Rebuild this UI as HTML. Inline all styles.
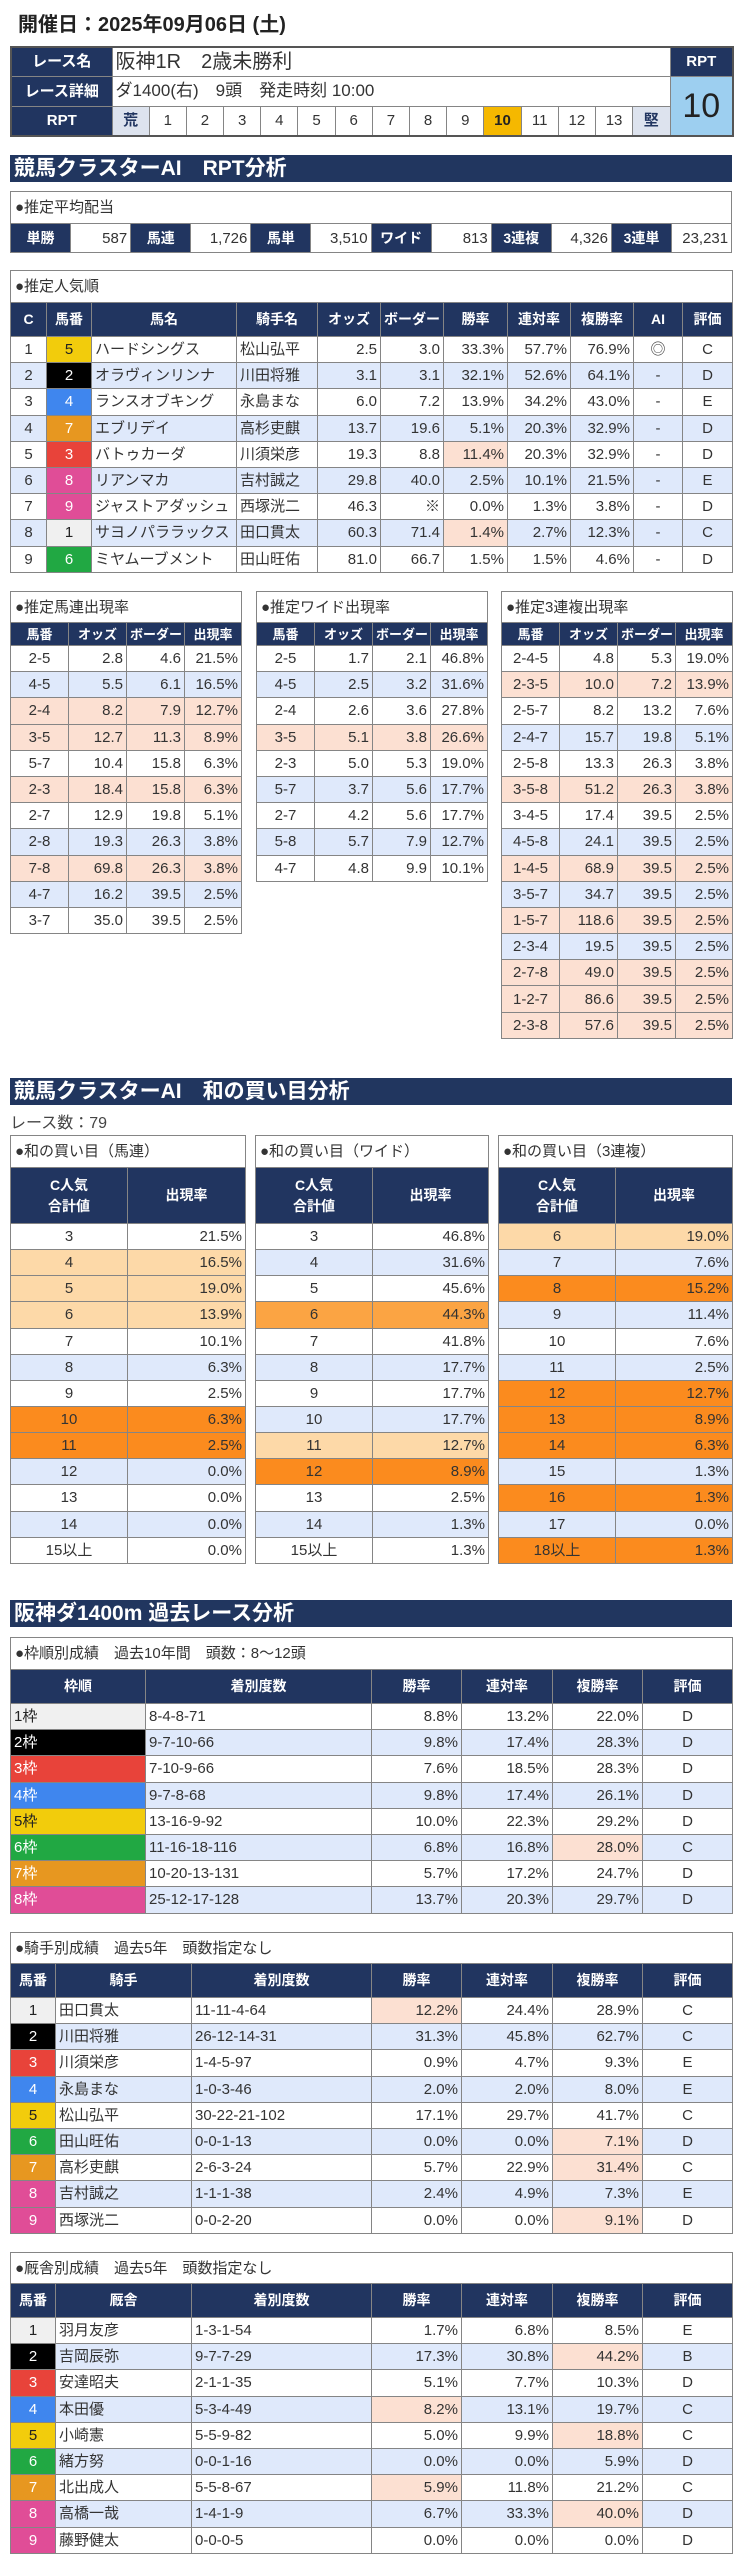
<!DOCTYPE html>
<html><head><meta charset="utf-8">
<style>
body{margin:0;width:742px;height:2560px;background:#fff;position:relative;font-family:"Liberation Sans","Noto Sans CJK JP",sans-serif;color:#333;overflow:hidden}
.a{position:absolute}
table{border-collapse:collapse;table-layout:fixed;position:absolute}
td{border:1px solid #858585;padding:0 3px;font-size:15px;line-height:17px;white-space:nowrap;overflow:hidden;color:#333}
.n{background:#213560;color:#fff;font-weight:bold;text-align:center;font-size:14px}
.t td{background:#fff;text-align:left;font-size:15px;padding-left:4px}
.r{text-align:right}.c{text-align:center}
.sm td:first-child{text-align:center}
.b td{background:#dfe9fb}
.p{background:#fce0d2 !important}
.L td{background:#fdd9a8}.S td{background:#fb8b1e}.M td{background:#fba443}
.bar{position:absolute;left:10px;width:718px;height:27px;background:#21365f;color:#fff;font-weight:bold;font-size:21px;line-height:27px;padding-left:4px}
.k1{background:#f0f0f0!important;color:#222}.k2{background:#000!important;color:#fff}.k3{background:#e8433a!important;color:#fff}.k4{background:#3f86ee!important;color:#fff}.k5{background:#f2cc0c!important;color:#222}.k6{background:#21a843!important;color:#fff}.k7{background:#e79720!important;color:#fff}.k8{background:#e04d97!important;color:#fff}
</style></head><body>
<div class="a" style="left:18px;top:8px;font-size:20px;font-weight:bold;color:#222">開催日：2025年09月06日 (土)</div>

<table style="left:10px;top:46px;width:722px;border:2px solid #555">
<colgroup><col style="width:101px"><col span="15" style="width:37.2px"><col style="width:63px"></colgroup>
<tr style="height:29px"><td class="n" style="font-size:15px">レース名</td><td colspan="15" style="font-size:20px;line-height:24px">阪神1R　2歳未勝利</td><td class="n" style="font-size:15px">RPT</td></tr>
<tr style="height:30px"><td class="n" style="font-size:15px">レース詳細</td><td colspan="15" style="font-size:17px;line-height:20px">ダ1400(右)　9頭　発走時刻 10:00</td><td rowspan="2" class="c" style="background:#9dcff0;font-size:34px;line-height:38px;color:#222">10</td></tr>
<tr style="height:30px"><td class="n" style="font-size:15px">RPT</td><td class="c" style="background:#dde3ee;font-weight:bold;color:#213560">荒</td><td class="c">1</td><td class="c">2</td><td class="c">3</td><td class="c">4</td><td class="c">5</td><td class="c">6</td><td class="c">7</td><td class="c">8</td><td class="c">9</td><td class="c" style="background:#f5b800;font-weight:bold;color:#222">10</td><td class="c">11</td><td class="c">12</td><td class="c">13</td><td class="c" style="background:#dde3ee;font-weight:bold;color:#213560">堅</td></tr>
</table>

<div class="bar" style="top:155px">競馬クラスターAI　RPT分析</div>

<table style="left:10px;top:191px;width:722px">
<colgroup><col span="12" style="width:60.1px"></colgroup>
<tr class="t" style="height:32px"><td colspan="12">●推定平均配当</td></tr>
<tr style="height:29px"><td class="n">単勝</td><td class="r">587</td><td class="n">馬連</td><td class="r">1,726</td><td class="n">馬単</td><td class="r">3,510</td><td class="n">ワイド</td><td class="r">813</td><td class="n">3連複</td><td class="r">4,326</td><td class="n">3連単</td><td class="r">23,231</td></tr>
</table>

<table style="left:10px;top:270px;width:722px">
<colgroup><col style="width:36px"><col style="width:45px"><col style="width:145px"><col style="width:81px"><col style="width:63px"><col style="width:63px"><col style="width:64px"><col style="width:63px"><col style="width:63px"><col style="width:49px"><col style="width:50px"></colgroup>
<tr class="t" style="height:32px"><td colspan="11">●推定人気順</td></tr>
<tr style="height:34px"><td class="n">C</td><td class="n">馬番</td><td class="n">馬名</td><td class="n">騎手名</td><td class="n">オッズ</td><td class="n">ボーダー</td><td class="n">勝率</td><td class="n">連対率</td><td class="n">複勝率</td><td class="n">AI</td><td class="n">評価</td></tr>
<tr style="height:26.2px"><td class="c">1</td><td class="c k5">5</td><td>ハードシングス</td><td>松山弘平</td><td class="r">2.5</td><td class="r">3.0</td><td class="r">33.3%</td><td class="r">57.7%</td><td class="r">76.9%</td><td class="c">◎</td><td class="c">C</td></tr>
<tr class="b" style="height:26.2px"><td class="c">2</td><td class="c k2">2</td><td>オラヴィンリンナ</td><td>川田将雅</td><td class="r">3.1</td><td class="r">3.1</td><td class="r">32.1%</td><td class="r">52.6%</td><td class="r">64.1%</td><td class="c">-</td><td class="c">D</td></tr>
<tr style="height:26.2px"><td class="c">3</td><td class="c k4">4</td><td>ランスオブキング</td><td>永島まな</td><td class="r">6.0</td><td class="r">7.2</td><td class="r">13.9%</td><td class="r">34.2%</td><td class="r">43.0%</td><td class="c">-</td><td class="c">E</td></tr>
<tr class="b" style="height:26.2px"><td class="c">4</td><td class="c k7">7</td><td>エブリデイ</td><td>高杉吏麒</td><td class="r">13.7</td><td class="r">19.6</td><td class="r">5.1%</td><td class="r">20.3%</td><td class="r">32.9%</td><td class="c">-</td><td class="c">D</td></tr>
<tr style="height:26.2px"><td class="c">5</td><td class="c k3">3</td><td>バトゥカーダ</td><td>川須栄彦</td><td class="r">19.3</td><td class="r">8.8</td><td class="r p">11.4%</td><td class="r">20.3%</td><td class="r">32.9%</td><td class="c">-</td><td class="c">D</td></tr>
<tr class="b" style="height:26.2px"><td class="c">6</td><td class="c k8">8</td><td>リアンマカ</td><td>吉村誠之</td><td class="r">29.8</td><td class="r">40.0</td><td class="r">2.5%</td><td class="r">10.1%</td><td class="r">21.5%</td><td class="c">-</td><td class="c">E</td></tr>
<tr style="height:26.2px"><td class="c">7</td><td class="c k8">9</td><td>ジャストアダッシュ</td><td>西塚洸二</td><td class="r">46.3</td><td class="r">※</td><td class="r">0.0%</td><td class="r">1.3%</td><td class="r">3.8%</td><td class="c">-</td><td class="c">D</td></tr>
<tr class="b" style="height:26.2px"><td class="c">8</td><td class="c k1">1</td><td>サヨノパララックス</td><td>田口貫太</td><td class="r">60.3</td><td class="r">71.4</td><td class="r p">1.4%</td><td class="r">2.7%</td><td class="r">12.3%</td><td class="c">-</td><td class="c">C</td></tr>
<tr style="height:26.2px"><td class="c">9</td><td class="c k6">6</td><td>ミヤムーブメント</td><td>田山旺佑</td><td class="r">81.0</td><td class="r">66.7</td><td class="r">1.5%</td><td class="r">1.5%</td><td class="r">4.6%</td><td class="c">-</td><td class="c">D</td></tr>
</table>

<table class="sm" style="left:10px;top:591px;width:231px">
<colgroup><col style="width:58px"><col style="width:58px"><col style="width:58px"><col style="width:57px"></colgroup>
<tr class="t" style="height:31px"><td colspan="4" style="text-align:left">●推定馬連出現率</td></tr>
<tr style="height:23px"><td class="n" style="font-size:13px">馬番</td><td class="n" style="font-size:13px">オッズ</td><td class="n" style="font-size:13px">ボーダー</td><td class="n" style="font-size:13px">出現率</td></tr>
<tr style="height:26.2px"><td>2-5</td><td class="r">2.8</td><td class="r">4.6</td><td class="r">21.5%</td></tr>
<tr class="b" style="height:26.2px"><td>4-5</td><td class="r">5.5</td><td class="r">6.1</td><td class="r">16.5%</td></tr>
<tr style="height:26.2px"><td class="p">2-4</td><td class="r p">8.2</td><td class="r p">7.9</td><td class="r p">12.7%</td></tr>
<tr style="height:26.2px"><td class="p">3-5</td><td class="r p">12.7</td><td class="r p">11.3</td><td class="r p">8.9%</td></tr>
<tr style="height:26.2px"><td>5-7</td><td class="r">10.4</td><td class="r">15.8</td><td class="r">6.3%</td></tr>
<tr style="height:26.2px"><td class="p">2-3</td><td class="r p">18.4</td><td class="r p">15.8</td><td class="r p">6.3%</td></tr>
<tr style="height:26.2px"><td>2-7</td><td class="r">12.9</td><td class="r">19.8</td><td class="r">5.1%</td></tr>
<tr class="b" style="height:26.2px"><td>2-8</td><td class="r">19.3</td><td class="r">26.3</td><td class="r">3.8%</td></tr>
<tr style="height:26.2px"><td class="p">7-8</td><td class="r p">69.8</td><td class="r p">26.3</td><td class="r p">3.8%</td></tr>
<tr class="b" style="height:26.2px"><td>4-7</td><td class="r">16.2</td><td class="r">39.5</td><td class="r">2.5%</td></tr>
<tr style="height:26.2px"><td>3-7</td><td class="r">35.0</td><td class="r">39.5</td><td class="r">2.5%</td></tr>
</table>

<table class="sm" style="left:256px;top:591px;width:231px">
<colgroup><col style="width:58px"><col style="width:58px"><col style="width:58px"><col style="width:57px"></colgroup>
<tr class="t" style="height:31px"><td colspan="4" style="text-align:left">●推定ワイド出現率</td></tr>
<tr style="height:23px"><td class="n" style="font-size:13px">馬番</td><td class="n" style="font-size:13px">オッズ</td><td class="n" style="font-size:13px">ボーダー</td><td class="n" style="font-size:13px">出現率</td></tr>
<tr style="height:26.2px"><td>2-5</td><td class="r">1.7</td><td class="r">2.1</td><td class="r">46.8%</td></tr>
<tr class="b" style="height:26.2px"><td>4-5</td><td class="r">2.5</td><td class="r">3.2</td><td class="r">31.6%</td></tr>
<tr style="height:26.2px"><td>2-4</td><td class="r">2.6</td><td class="r">3.6</td><td class="r">27.8%</td></tr>
<tr style="height:26.2px"><td class="p">3-5</td><td class="r p">5.1</td><td class="r p">3.8</td><td class="r p">26.6%</td></tr>
<tr style="height:26.2px"><td>2-3</td><td class="r">5.0</td><td class="r">5.3</td><td class="r">19.0%</td></tr>
<tr class="b" style="height:26.2px"><td>5-7</td><td class="r">3.7</td><td class="r">5.6</td><td class="r">17.7%</td></tr>
<tr style="height:26.2px"><td>2-7</td><td class="r">4.2</td><td class="r">5.6</td><td class="r">17.7%</td></tr>
<tr class="b" style="height:26.2px"><td>5-8</td><td class="r">5.7</td><td class="r">7.9</td><td class="r">12.7%</td></tr>
<tr style="height:26.2px"><td>4-7</td><td class="r">4.8</td><td class="r">9.9</td><td class="r">10.1%</td></tr>
</table>

<table class="sm" style="left:501px;top:591px;width:231px">
<colgroup><col style="width:58px"><col style="width:58px"><col style="width:58px"><col style="width:57px"></colgroup>
<tr class="t" style="height:31px"><td colspan="4" style="text-align:left">●推定3連複出現率</td></tr>
<tr style="height:23px"><td class="n" style="font-size:13px">馬番</td><td class="n" style="font-size:13px">オッズ</td><td class="n" style="font-size:13px">ボーダー</td><td class="n" style="font-size:13px">出現率</td></tr>
<tr style="height:26.2px"><td>2-4-5</td><td class="r">4.8</td><td class="r">5.3</td><td class="r">19.0%</td></tr>
<tr style="height:26.2px"><td class="p">2-3-5</td><td class="r p">10.0</td><td class="r p">7.2</td><td class="r p">13.9%</td></tr>
<tr style="height:26.2px"><td>2-5-7</td><td class="r">8.2</td><td class="r">13.2</td><td class="r">7.6%</td></tr>
<tr class="b" style="height:26.2px"><td>2-4-7</td><td class="r">15.7</td><td class="r">19.8</td><td class="r">5.1%</td></tr>
<tr style="height:26.2px"><td>2-5-8</td><td class="r">13.3</td><td class="r">26.3</td><td class="r">3.8%</td></tr>
<tr style="height:26.2px"><td class="p">3-5-8</td><td class="r p">51.2</td><td class="r p">26.3</td><td class="r p">3.8%</td></tr>
<tr style="height:26.2px"><td>3-4-5</td><td class="r">17.4</td><td class="r">39.5</td><td class="r">2.5%</td></tr>
<tr class="b" style="height:26.2px"><td>4-5-8</td><td class="r">24.1</td><td class="r">39.5</td><td class="r">2.5%</td></tr>
<tr style="height:26.2px"><td class="p">1-4-5</td><td class="r p">68.9</td><td class="r p">39.5</td><td class="r p">2.5%</td></tr>
<tr class="b" style="height:26.2px"><td>3-5-7</td><td class="r">34.7</td><td class="r">39.5</td><td class="r">2.5%</td></tr>
<tr style="height:26.2px"><td class="p">1-5-7</td><td class="r p">118.6</td><td class="r p">39.5</td><td class="r p">2.5%</td></tr>
<tr class="b" style="height:26.2px"><td>2-3-4</td><td class="r">19.5</td><td class="r">39.5</td><td class="r">2.5%</td></tr>
<tr style="height:26.2px"><td class="p">2-7-8</td><td class="r p">49.0</td><td class="r p">39.5</td><td class="r p">2.5%</td></tr>
<tr style="height:26.2px"><td class="p">1-2-7</td><td class="r p">86.6</td><td class="r p">39.5</td><td class="r p">2.5%</td></tr>
<tr style="height:26.2px"><td class="p">2-3-8</td><td class="r p">57.6</td><td class="r p">39.5</td><td class="r p">2.5%</td></tr>
</table>

<div class="bar" style="top:1078px">競馬クラスターAI　和の買い目分析</div>
<div class="a" style="left:10px;top:1109px;font-size:16px;color:#444">レース数：79</div>

<table style="left:10px;top:1135px;width:235px">
<colgroup><col style="width:117px"><col style="width:118px"></colgroup>
<tr class="t" style="height:32px"><td colspan="2">●和の買い目（馬連）</td></tr>
<tr style="height:56px"><td class="n" style="line-height:21px">C人気<br>合計値</td><td class="n">出現率</td></tr>
<tr style="height:26.15px"><td class="c">3</td><td class="r">21.5%</td></tr>
<tr class="L" style="height:26.15px"><td class="c">4</td><td class="r">16.5%</td></tr>
<tr class="L" style="height:26.15px"><td class="c">5</td><td class="r">19.0%</td></tr>
<tr class="L" style="height:26.15px"><td class="c">6</td><td class="r">13.9%</td></tr>
<tr style="height:26.15px"><td class="c">7</td><td class="r">10.1%</td></tr>
<tr class="b" style="height:26.15px"><td class="c">8</td><td class="r">6.3%</td></tr>
<tr style="height:26.15px"><td class="c">9</td><td class="r">2.5%</td></tr>
<tr class="S" style="height:26.15px"><td class="c">10</td><td class="r">6.3%</td></tr>
<tr class="S" style="height:26.15px"><td class="c">11</td><td class="r">2.5%</td></tr>
<tr class="b" style="height:26.15px"><td class="c">12</td><td class="r">0.0%</td></tr>
<tr style="height:26.15px"><td class="c">13</td><td class="r">0.0%</td></tr>
<tr class="b" style="height:26.15px"><td class="c">14</td><td class="r">0.0%</td></tr>
<tr style="height:26.15px"><td class="c">15以上</td><td class="r">0.0%</td></tr>
</table>

<table style="left:255px;top:1135px;width:233px">
<colgroup><col style="width:117px"><col style="width:116px"></colgroup>
<tr class="t" style="height:32px"><td colspan="2">●和の買い目（ワイド）</td></tr>
<tr style="height:56px"><td class="n" style="line-height:21px">C人気<br>合計値</td><td class="n">出現率</td></tr>
<tr style="height:26.15px"><td class="c">3</td><td class="r">46.8%</td></tr>
<tr class="b" style="height:26.15px"><td class="c">4</td><td class="r">31.6%</td></tr>
<tr style="height:26.15px"><td class="c">5</td><td class="r">45.6%</td></tr>
<tr class="M" style="height:26.15px"><td class="c">6</td><td class="r">44.3%</td></tr>
<tr style="height:26.15px"><td class="c">7</td><td class="r">41.8%</td></tr>
<tr class="b" style="height:26.15px"><td class="c">8</td><td class="r">17.7%</td></tr>
<tr style="height:26.15px"><td class="c">9</td><td class="r">17.7%</td></tr>
<tr class="b" style="height:26.15px"><td class="c">10</td><td class="r">17.7%</td></tr>
<tr class="L" style="height:26.15px"><td class="c">11</td><td class="r">12.7%</td></tr>
<tr class="S" style="height:26.15px"><td class="c">12</td><td class="r">8.9%</td></tr>
<tr style="height:26.15px"><td class="c">13</td><td class="r">2.5%</td></tr>
<tr class="b" style="height:26.15px"><td class="c">14</td><td class="r">1.3%</td></tr>
<tr style="height:26.15px"><td class="c">15以上</td><td class="r">1.3%</td></tr>
</table>

<table style="left:498px;top:1135px;width:234px">
<colgroup><col style="width:117px"><col style="width:117px"></colgroup>
<tr class="t" style="height:32px"><td colspan="2">●和の買い目（3連複）</td></tr>
<tr style="height:56px"><td class="n" style="line-height:21px">C人気<br>合計値</td><td class="n">出現率</td></tr>
<tr class="L" style="height:26.15px"><td class="c">6</td><td class="r">19.0%</td></tr>
<tr class="b" style="height:26.15px"><td class="c">7</td><td class="r">7.6%</td></tr>
<tr class="S" style="height:26.15px"><td class="c">8</td><td class="r">15.2%</td></tr>
<tr class="b" style="height:26.15px"><td class="c">9</td><td class="r">11.4%</td></tr>
<tr style="height:26.15px"><td class="c">10</td><td class="r">7.6%</td></tr>
<tr class="b" style="height:26.15px"><td class="c">11</td><td class="r">2.5%</td></tr>
<tr class="S" style="height:26.15px"><td class="c">12</td><td class="r">12.7%</td></tr>
<tr class="S" style="height:26.15px"><td class="c">13</td><td class="r">8.9%</td></tr>
<tr class="S" style="height:26.15px"><td class="c">14</td><td class="r">6.3%</td></tr>
<tr class="b" style="height:26.15px"><td class="c">15</td><td class="r">1.3%</td></tr>
<tr class="S" style="height:26.15px"><td class="c">16</td><td class="r">1.3%</td></tr>
<tr class="b" style="height:26.15px"><td class="c">17</td><td class="r">0.0%</td></tr>
<tr class="S" style="height:26.15px"><td class="c">18以上</td><td class="r">1.3%</td></tr>
</table>

<div class="bar" style="top:1600px">阪神ダ1400m 過去レース分析</div>

<table style="left:10px;top:1637px;width:722px">
<colgroup><col style="width:135px"><col style="width:226px"><col style="width:90px"><col style="width:91px"><col style="width:90px"><col style="width:90px"></colgroup>
<tr class="t" style="height:32px"><td colspan="6">●枠順別成績　過去10年間　頭数：8～12頭</td></tr>
<tr style="height:34px"><td class="n">枠順</td><td class="n">着別度数</td><td class="n">勝率</td><td class="n">連対率</td><td class="n">複勝率</td><td class="n">評価</td></tr>
<tr style="height:26.2px"><td class="k1">1枠</td><td>8-4-8-71</td><td class="r">8.8%</td><td class="r">13.2%</td><td class="r">22.0%</td><td class="c">D</td></tr>
<tr class="b" style="height:26.2px"><td class="k2">2枠</td><td>9-7-10-66</td><td class="r">9.8%</td><td class="r">17.4%</td><td class="r">28.3%</td><td class="c">D</td></tr>
<tr style="height:26.2px"><td class="k3">3枠</td><td>7-10-9-66</td><td class="r">7.6%</td><td class="r">18.5%</td><td class="r">28.3%</td><td class="c">D</td></tr>
<tr class="b" style="height:26.2px"><td class="k4">4枠</td><td>9-7-8-68</td><td class="r">9.8%</td><td class="r">17.4%</td><td class="r">26.1%</td><td class="c">D</td></tr>
<tr style="height:26.2px"><td class="k5">5枠</td><td>13-16-9-92</td><td class="r">10.0%</td><td class="r">22.3%</td><td class="r">29.2%</td><td class="c">D</td></tr>
<tr class="b" style="height:26.2px"><td class="k6">6枠</td><td>11-16-18-116</td><td class="r">6.8%</td><td class="r">16.8%</td><td class="r p">28.0%</td><td class="c">C</td></tr>
<tr style="height:26.2px"><td class="k7">7枠</td><td>10-20-13-131</td><td class="r">5.7%</td><td class="r">17.2%</td><td class="r">24.7%</td><td class="c">D</td></tr>
<tr class="b" style="height:26.2px"><td class="k8">8枠</td><td>25-12-17-128</td><td class="r">13.7%</td><td class="r">20.3%</td><td class="r">29.7%</td><td class="c">D</td></tr>
</table>

<table style="left:10px;top:1932px;width:722px">
<colgroup><col style="width:45px"><col style="width:136px"><col style="width:180px"><col style="width:90px"><col style="width:91px"><col style="width:90px"><col style="width:90px"></colgroup>
<tr class="t" style="height:31px"><td colspan="7">●騎手別成績　過去5年　頭数指定なし</td></tr>
<tr style="height:34px"><td class="n">馬番</td><td class="n">騎手</td><td class="n">着別度数</td><td class="n">勝率</td><td class="n">連対率</td><td class="n">複勝率</td><td class="n">評価</td></tr>
<tr style="height:26.2px"><td class="c k1">1</td><td>田口貫太</td><td>11-11-4-64</td><td class="r p">12.2%</td><td class="r">24.4%</td><td class="r">28.9%</td><td class="c">C</td></tr>
<tr class="b" style="height:26.2px"><td class="c k2">2</td><td>川田将雅</td><td>26-12-14-31</td><td class="r">31.3%</td><td class="r">45.8%</td><td class="r">62.7%</td><td class="c">C</td></tr>
<tr style="height:26.2px"><td class="c k3">3</td><td>川須栄彦</td><td>1-4-5-97</td><td class="r">0.9%</td><td class="r">4.7%</td><td class="r">9.3%</td><td class="c">E</td></tr>
<tr class="b" style="height:26.2px"><td class="c k4">4</td><td>永島まな</td><td>1-0-3-46</td><td class="r">2.0%</td><td class="r">2.0%</td><td class="r">8.0%</td><td class="c">E</td></tr>
<tr style="height:26.2px"><td class="c k5">5</td><td>松山弘平</td><td>30-22-21-102</td><td class="r">17.1%</td><td class="r">29.7%</td><td class="r">41.7%</td><td class="c">C</td></tr>
<tr class="b" style="height:26.2px"><td class="c k6">6</td><td>田山旺佑</td><td>0-0-1-13</td><td class="r">0.0%</td><td class="r">0.0%</td><td class="r p">7.1%</td><td class="c">D</td></tr>
<tr style="height:26.2px"><td class="c k7">7</td><td>高杉吏麒</td><td>2-6-3-24</td><td class="r">5.7%</td><td class="r">22.9%</td><td class="r p">31.4%</td><td class="c">C</td></tr>
<tr class="b" style="height:26.2px"><td class="c k8">8</td><td>吉村誠之</td><td>1-1-1-38</td><td class="r">2.4%</td><td class="r">4.9%</td><td class="r">7.3%</td><td class="c">E</td></tr>
<tr style="height:26.2px"><td class="c k8">9</td><td>西塚洸二</td><td>0-0-2-20</td><td class="r">0.0%</td><td class="r">0.0%</td><td class="r p">9.1%</td><td class="c">D</td></tr>
</table>

<table style="left:10px;top:2252px;width:722px">
<colgroup><col style="width:45px"><col style="width:136px"><col style="width:180px"><col style="width:90px"><col style="width:91px"><col style="width:90px"><col style="width:90px"></colgroup>
<tr class="t" style="height:31px"><td colspan="7">●厩舎別成績　過去5年　頭数指定なし</td></tr>
<tr style="height:34px"><td class="n">馬番</td><td class="n">厩舎</td><td class="n">着別度数</td><td class="n">勝率</td><td class="n">連対率</td><td class="n">複勝率</td><td class="n">評価</td></tr>
<tr style="height:26.2px"><td class="c k1">1</td><td>羽月友彦</td><td>1-3-1-54</td><td class="r">1.7%</td><td class="r">6.8%</td><td class="r">8.5%</td><td class="c">E</td></tr>
<tr class="b" style="height:26.2px"><td class="c k2">2</td><td>吉岡辰弥</td><td>9-7-7-29</td><td class="r">17.3%</td><td class="r">30.8%</td><td class="r p">44.2%</td><td class="c">B</td></tr>
<tr style="height:26.2px"><td class="c k3">3</td><td>安達昭夫</td><td>2-1-1-35</td><td class="r">5.1%</td><td class="r">7.7%</td><td class="r">10.3%</td><td class="c">D</td></tr>
<tr class="b" style="height:26.2px"><td class="c k4">4</td><td>本田優</td><td>5-3-4-49</td><td class="r p">8.2%</td><td class="r">13.1%</td><td class="r">19.7%</td><td class="c">C</td></tr>
<tr style="height:26.2px"><td class="c k5">5</td><td>小崎憲</td><td>5-5-9-82</td><td class="r">5.0%</td><td class="r">9.9%</td><td class="r p">18.8%</td><td class="c">C</td></tr>
<tr class="b" style="height:26.2px"><td class="c k6">6</td><td>緒方努</td><td>0-0-1-16</td><td class="r">0.0%</td><td class="r">0.0%</td><td class="r">5.9%</td><td class="c">D</td></tr>
<tr style="height:26.2px"><td class="c k7">7</td><td>北出成人</td><td>5-5-8-67</td><td class="r p">5.9%</td><td class="r">11.8%</td><td class="r">21.2%</td><td class="c">C</td></tr>
<tr class="b" style="height:26.2px"><td class="c k8">8</td><td>高橋一哉</td><td>1-4-1-9</td><td class="r">6.7%</td><td class="r">33.3%</td><td class="r p">40.0%</td><td class="c">D</td></tr>
<tr style="height:26.2px"><td class="c k8">9</td><td>藤野健太</td><td>0-0-0-5</td><td class="r">0.0%</td><td class="r">0.0%</td><td class="r">0.0%</td><td class="c">D</td></tr>
</table>
</body></html>
